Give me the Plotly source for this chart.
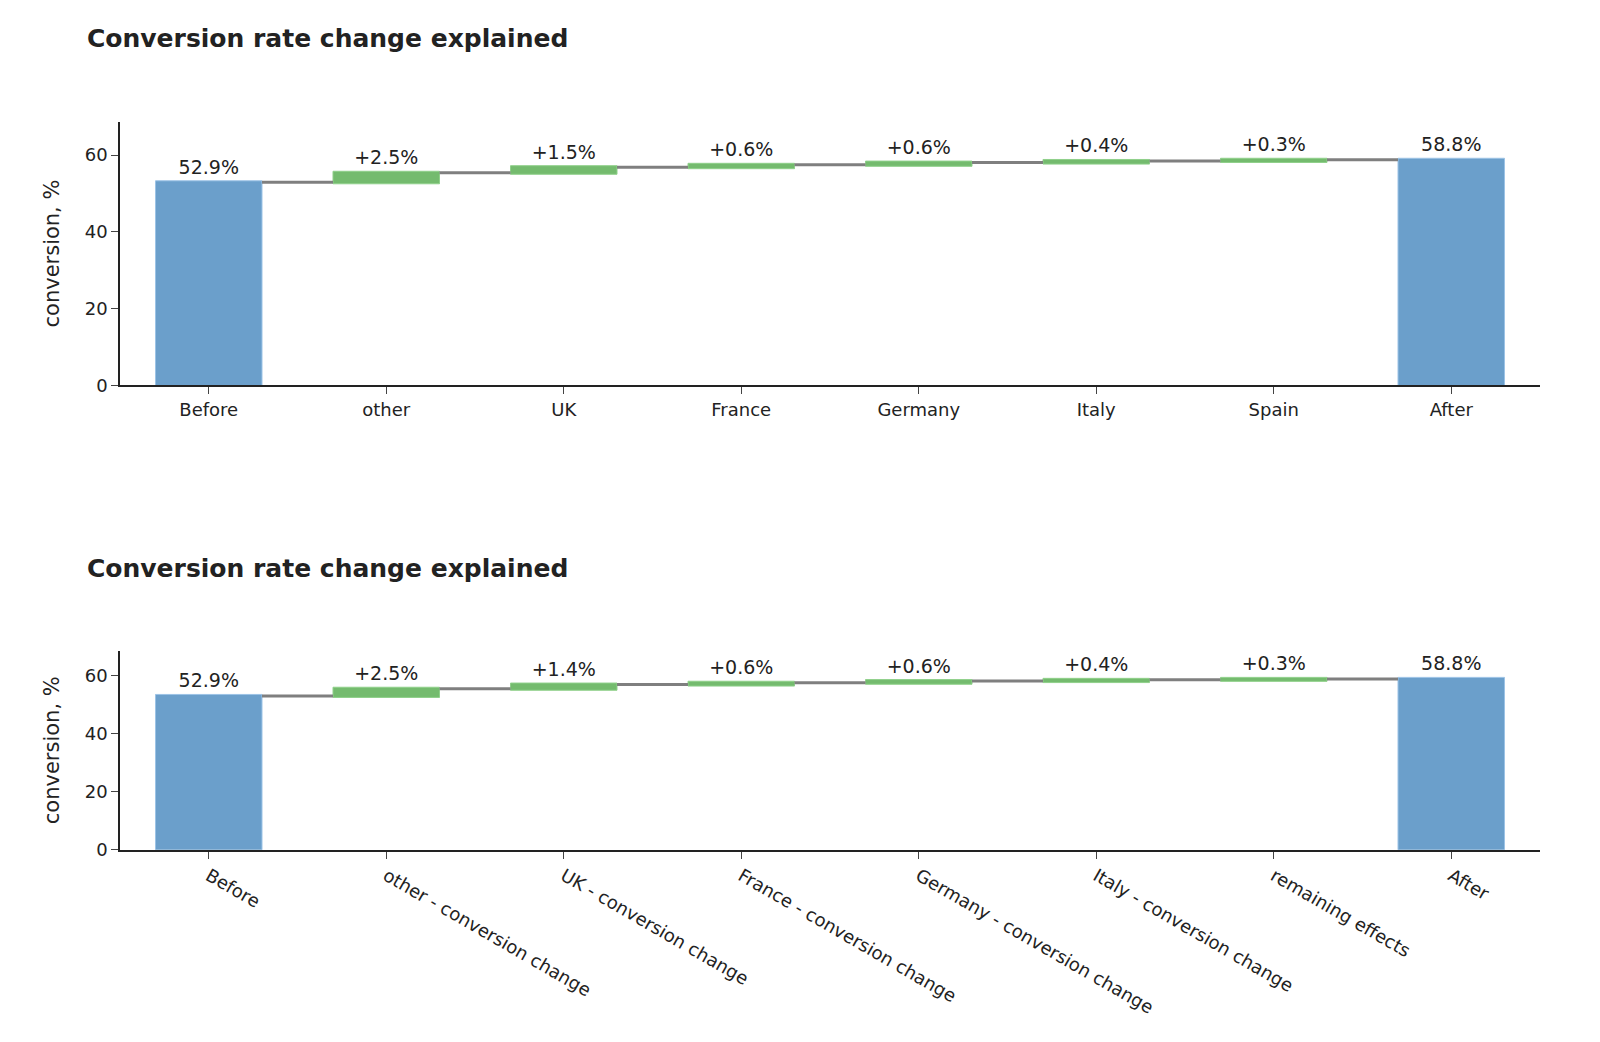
import plotly.graph_objects as go

title_text = "Conversion rate change explained"
y_title = "conversion, %"

categories_top = ["Before", "other", "UK", "France", "Germany", "Italy", "Spain", "After"]
categories_bottom = ["Before", "other - conversion change", "UK - conversion change",
                     "France - conversion change", "Germany - conversion change",
                     "Italy - conversion change", "remaining effects", "After"]

before_value = 52.93
deltas_top = [2.48, 1.46, 0.62, 0.58, 0.42, 0.31]
deltas_bottom = [2.48, 1.44, 0.62, 0.58, 0.42, 0.33]

BLUE = "#6b9fcb"
GREEN = "#74bb6e"
FONT = "Verdana, DejaVu Sans, sans-serif"


def build(cats, deltas, xaxis, yaxis):
    values = [before_value] + deltas + [0]
    measures = ["absolute"] + ["relative"] * len(deltas) + ["total"]
    after = before_value + sum(deltas)
    texts = [f"{before_value:.1f}%"] + [f"{d:+.1f}%" for d in deltas] + [f"{after:.1f}%"]
    return go.Waterfall(
        x=cats, y=values, measure=measures, text=texts,
        textposition="outside", textfont=dict(size=19, color="#222", family=FONT),
        width=0.6,
        connector=dict(line=dict(color="#7f7f7f", width=3)),
        increasing=dict(marker=dict(color=GREEN, line=dict(color="#8fd08a", width=1))),
        decreasing=dict(marker=dict(color="#e06060", line=dict(width=0))),
        totals=dict(marker=dict(color=BLUE, line=dict(color="#9cc3e6", width=1))),
        xaxis=xaxis, yaxis=yaxis, showlegend=False, cliponaxis=False,
        hoverinfo="skip",
    )


fig = go.Figure()
fig.add_trace(build(categories_top, deltas_top, "x", "y"))
fig.add_trace(build(categories_bottom, deltas_bottom, "x2", "y2"))

H = 1042.0
W = 1600.0
xd = [120 / W, 1540 / W]

axis_common = dict(showline=True, linecolor="#222", linewidth=1.5, ticks="outside",
                   ticklen=7, tickcolor="#444", showgrid=False, zeroline=False,
                   tickfont=dict(size=18, color="#222", family=FONT))

fig.update_layout(
    width=1600, height=1042,
    template="simple_white",
    margin=dict(l=0, r=0, t=0, b=0),
    font=dict(family=FONT, size=18, color="#222"),
    plot_bgcolor="white", paper_bgcolor="white",
    xaxis=dict(domain=xd, anchor="y", **axis_common),
    yaxis=dict(domain=[1 - 389 / H, 1 - 123 / H], anchor="x", range=[0, 68.7],
               tickvals=[0, 20, 40, 60],
               title=dict(text=y_title, font=dict(size=21, color="#222", family=FONT), standoff=19),
               **axis_common),
    xaxis2=dict(domain=xd, anchor="y2", tickangle=30, **axis_common),
    yaxis2=dict(domain=[1 - 858 / H, 1 - 657 / H], anchor="x2", range=[0, 68.5],
                tickvals=[0, 20, 40, 60],
                title=dict(text=y_title, font=dict(size=21, color="#222", family=FONT), standoff=19),
                **axis_common),
    annotations=[
        dict(text="<b>" + title_text + "</b>", x=85 / W, y=1 - 39 / H,
             xref="paper", yref="paper", xanchor="left", yanchor="middle", showarrow=False,
             font=dict(size=25, color="#222", family=FONT)),
        dict(text="<b>" + title_text + "</b>", x=85 / W, y=1 - 574 / H,
             xref="paper", yref="paper", xanchor="left", yanchor="middle", showarrow=False,
             font=dict(size=25, color="#222", family=FONT)),
    ],
)

fig.write_html(
    "out.html",
    config={"displayModeBar": False},
    post_script="document.body.style.margin='0';document.body.style.overflow='hidden';",
)
